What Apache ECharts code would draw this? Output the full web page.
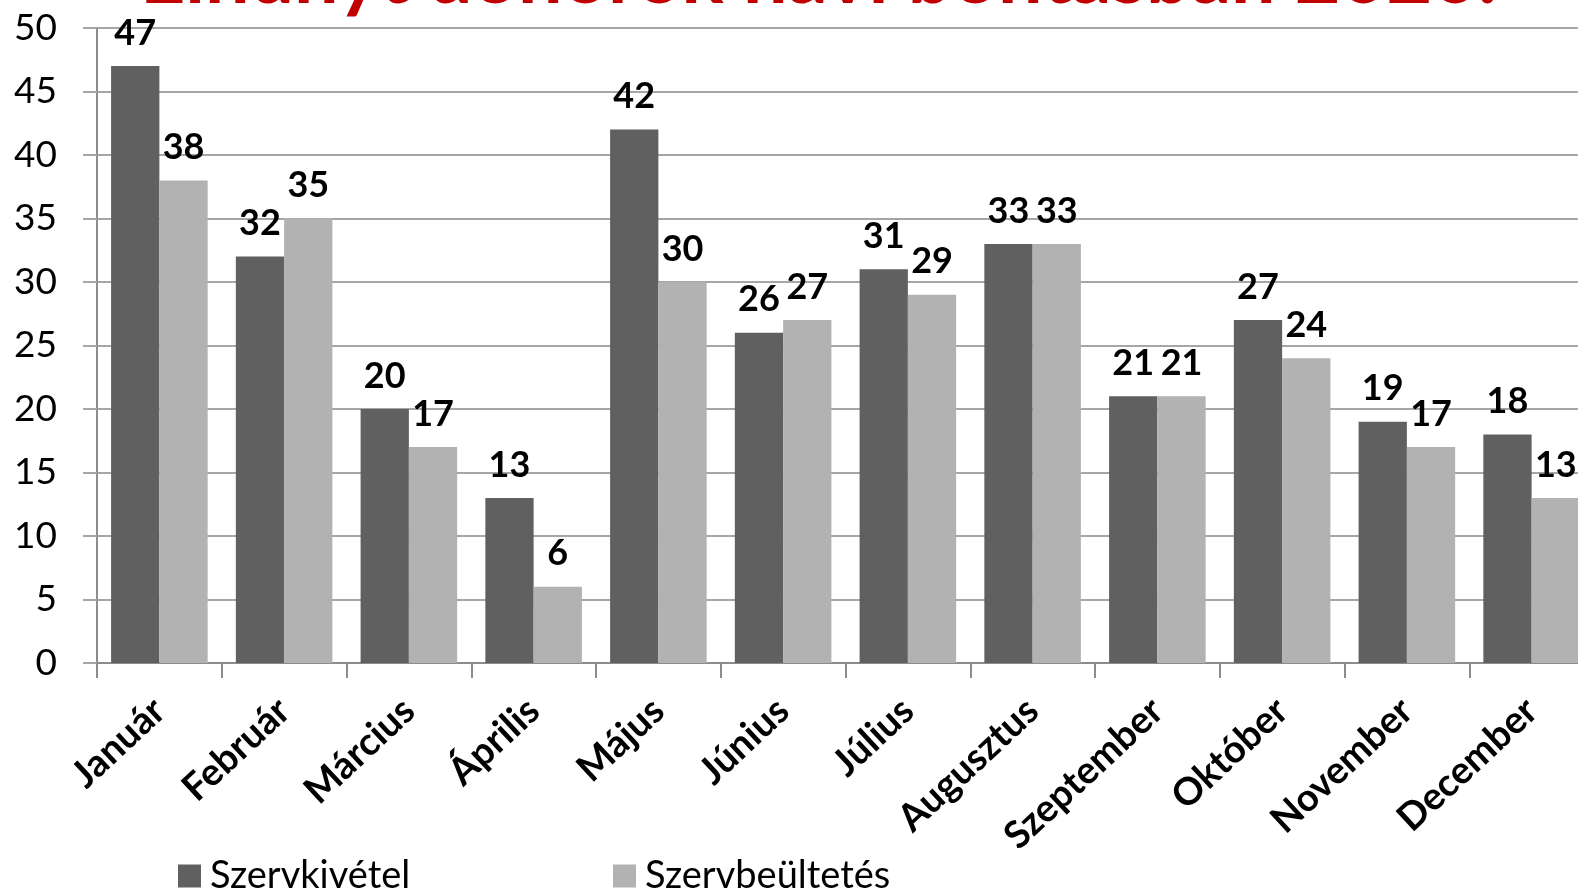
<!DOCTYPE html>
<html>
<head>
<meta charset="utf-8">
<script src="https://cdn.jsdelivr.net/npm/echarts@6/dist/echarts.min.js"></script>
<style>
html,body{margin:0;padding:0;background:#fff;}
#chart{width:1578px;height:888px;}
</style>
</head>
<body>
<div id="chart"></div>
<script>
const titleText = 'Elhunyt donorok havi bontásban 2020.';
const categories = ['Január','Február','Március','Április','Május','Június','Július','Augusztus','Szeptember','Október','November','December'];
const seriesNames = ['Szervkivétel','Szervbeültetés'];
const szervkivetel = [47,32,20,13,42,26,31,33,21,27,19,18];
const szervbeultetes = [38,35,17,6,30,27,29,33,21,24,17,13];
const yTicks = {min:0, max:50, interval:5};

const FONT = 'Lato, "Open Sans", sans-serif';
const chart = echarts.init(document.getElementById('chart'));
const labelStyle = {show:true, position:'top', distance:15, color:'#000', fontFamily:FONT, fontWeight:'bold', fontSize:36};
chart.setOption({
  animation:false,
  backgroundColor:'#fff',
  title:{text:titleText, left:135, top:-67, padding:5,
    textStyle:{fontFamily:FONT, fontWeight:'bold', fontSize:79, color:'#c00000'}},
  legend:[
    {left:173, top:852, itemWidth:23, itemHeight:23, icon:'rect', data:[seriesNames[0]],
      textStyle:{fontFamily:FONT, fontSize:38, color:'#000', padding:[0,0,0,4]}},
    {left:608, top:852, itemWidth:23, itemHeight:23, icon:'rect', data:[seriesNames[1]],
      textStyle:{fontFamily:FONT, fontSize:38, color:'#000', padding:[0,0,0,4]}}
  ],
  grid:{left:97, top:28, width:1497, height:635, containLabel:false, outerBoundsMode:'none'},
  xAxis:{type:'category', data:categories,
    axisLine:{lineStyle:{color:'#8c8c8c', width:2}},
    axisTick:{show:true, length:15, lineStyle:{color:'#8c8c8c', width:2}},
    axisLabel:{rotate:43, margin:42, color:'#000', fontFamily:FONT, fontWeight:'bold', fontSize:38, interval:0}},
  yAxis:{type:'value', min:yTicks.min, max:yTicks.max, interval:yTicks.interval,
    axisLine:{show:true, lineStyle:{color:'#8c8c8c', width:2}},
    axisTick:{show:true, length:14, lineStyle:{color:'#a6a6a6', width:2}},
    splitLine:{show:true, lineStyle:{color:'#a6a6a6', width:2}},
    axisLabel:{margin:40, color:'#000', fontFamily:FONT, fontSize:37}},
  series:[
    {name:seriesNames[0], type:'bar', data:szervkivetel, barGap:'0%', barCategoryGap:'22.6%',
      itemStyle:{color:'#606060'}, label:labelStyle},
    {name:seriesNames[1], type:'bar', data:szervbeultetes, barGap:'0%', barCategoryGap:'22.6%',
      itemStyle:{color:'#b2b2b2'}, label:labelStyle}
  ]
});
</script>
</body>
</html>
